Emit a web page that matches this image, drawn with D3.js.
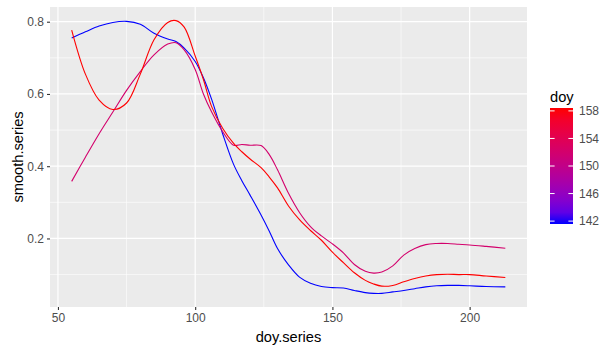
<!DOCTYPE html>
<html>
<head>
<meta charset="utf-8">
<script src="https://cdn.jsdelivr.net/npm/d3@7"></script>
<style>
  body { margin: 0; background: #fff; }
  svg { font-family: "Liberation Sans", Arial, sans-serif; display: block; }
  .tick-label { fill: #4d4d4d; font-size: 12px; }
  .axis-title { fill: #000; font-size: 14.67px; }
</style>
</head>
<body>
<div id="chart"></div>
<script>
// Sample positions along doy.series (shared by all three smoothed series)
const doySeries = [55, 60, 65, 70, 75, 80, 85, 90, 93, 96, 100, 103, 106, 110, 114, 117, 120, 124, 127, 130,
  134, 138, 142, 146, 150, 154, 158, 162, 165, 168, 172, 176, 180, 184, 188, 192, 196, 200, 206, 213];

// doy value of each line (colour variable)
const doyValues = [142, 152, 158];

// smooth.series for each doy
const smooth142 = [0.755, 0.772, 0.788, 0.798, 0.801, 0.793, 0.768, 0.752, 0.745, 0.727, 0.690, 0.645, 0.585, 0.490,
  0.405, 0.360, 0.320, 0.265, 0.220, 0.172, 0.127, 0.093, 0.076, 0.067, 0.064, 0.063, 0.056, 0.050, 0.048, 0.048,
  0.052, 0.056, 0.061, 0.066, 0.069, 0.070, 0.070, 0.069, 0.067, 0.066];
const smooth152 = [0.358, 0.425, 0.490, 0.550, 0.610, 0.662, 0.708, 0.738, 0.742, 0.722, 0.668, 0.600, 0.550, 0.496,
  0.458, 0.460, 0.458, 0.457, 0.432, 0.390, 0.325, 0.272, 0.233, 0.207, 0.185, 0.160, 0.128, 0.109, 0.104, 0.107,
  0.124, 0.154, 0.172, 0.183, 0.186, 0.186, 0.184, 0.182, 0.178, 0.173];
const smooth158 = [0.777, 0.655, 0.583, 0.557, 0.575, 0.655, 0.750, 0.798, 0.803, 0.785, 0.705, 0.640, 0.565, 0.505,
  0.463, 0.440, 0.420, 0.396, 0.370, 0.340, 0.290, 0.252, 0.222, 0.195, 0.162, 0.133, 0.105, 0.084, 0.074, 0.068,
  0.070, 0.080, 0.089, 0.096, 0.100, 0.101, 0.100, 0.100, 0.096, 0.092];

const xTicks = [50, 100, 150, 200];
const xMinor = [75, 125, 175];
const yTicks = [0.2, 0.4, 0.6, 0.8];
const yMinor = [0.1, 0.3, 0.5, 0.7];
const legendTicks = [142, 146, 150, 154, 158];

class SmoothChart {

  constructor(_config) {
    this.config = {
      parentElement: _config.parentElement,
      containerWidth: 615,
      containerHeight: 354,
      margin: { top: 7, right: 88, bottom: 47, left: 50 }
    };
    this.series = doyValues.map((doy, i) => ({
      doy: doy,
      values: doySeries.map((x, j) => ({ x: x, y: [smooth142, smooth152, smooth158][i][j] }))
    }));
    this.initVis();
  }

  initVis() {
    let vis = this;

    vis.config.width = vis.config.containerWidth - vis.config.margin.left - vis.config.margin.right;
    vis.config.height = vis.config.containerHeight - vis.config.margin.top - vis.config.margin.bottom;

    vis.svg = d3.select(vis.config.parentElement)
      .append('svg')
      .attr('width', vis.config.containerWidth)
      .attr('height', vis.config.containerHeight);

    vis.chart = vis.svg.append('g')
      .attr('transform', `translate(${vis.config.margin.left},${vis.config.margin.top})`);

    // ggplot style 5% expansion of the data range
    const expand = ext => {
      const pad = (ext[1] - ext[0]) * 0.05;
      return [ext[0] - pad, ext[1] + pad];
    };
    const allY = smooth142.concat(smooth152, smooth158);

    vis.xScale = d3.scaleLinear()
      .domain(expand(d3.extent(doySeries)))
      .range([0, vis.config.width]);

    vis.yScale = d3.scaleLinear()
      .domain(expand(d3.extent(allY)))
      .range([vis.config.height, 0]);

    vis.colorScale = d3.scaleLinear()
      .domain(d3.extent(doyValues))
      .range(['#0000ff', '#ff0000'])
      .interpolate(d3.interpolateLab);

    vis.renderVis();
  }

  renderVis() {
    let vis = this;
    const w = vis.config.width, h = vis.config.height;

    // Panel background
    vis.chart.append('rect')
      .attr('width', w)
      .attr('height', h)
      .attr('fill', '#ebebeb');

    // Minor grid
    vis.chart.selectAll('.grid-minor-x').data(xMinor).join('line')
      .attr('x1', d => vis.xScale(d)).attr('x2', d => vis.xScale(d))
      .attr('y1', 0).attr('y2', h)
      .attr('stroke', '#fff').attr('stroke-width', 0.6);
    vis.chart.selectAll('.grid-minor-y').data(yMinor).join('line')
      .attr('y1', d => vis.yScale(d)).attr('y2', d => vis.yScale(d))
      .attr('x1', 0).attr('x2', w)
      .attr('stroke', '#fff').attr('stroke-width', 0.6);

    // Major grid
    vis.chart.selectAll('.grid-major-x').data(xTicks).join('line')
      .attr('x1', d => vis.xScale(d)).attr('x2', d => vis.xScale(d))
      .attr('y1', 0).attr('y2', h)
      .attr('stroke', '#fff').attr('stroke-width', 1.2);
    vis.chart.selectAll('.grid-major-y').data(yTicks).join('line')
      .attr('y1', d => vis.yScale(d)).attr('y2', d => vis.yScale(d))
      .attr('x1', 0).attr('x2', w)
      .attr('stroke', '#fff').attr('stroke-width', 1.2);

    // Lines
    const line = d3.line()
      .x(d => vis.xScale(d.x))
      .y(d => vis.yScale(d.y))
      .curve(d3.curveCatmullRom.alpha(0.5));

    vis.chart.selectAll('.series').data(vis.series).join('path')
      .attr('class', 'series')
      .attr('d', d => line(d.values))
      .attr('fill', 'none')
      .attr('stroke', d => vis.colorScale(d.doy))
      .attr('stroke-width', 1.1);

    // Axes
    const xAxis = d3.axisBottom(vis.xScale).tickValues(xTicks).tickSize(3).tickPadding(3);
    const yAxis = d3.axisLeft(vis.yScale).tickValues(yTicks).tickSize(3).tickPadding(3)
      .tickFormat(d3.format('.1f'));

    const xg = vis.chart.append('g')
      .attr('transform', `translate(0,${h})`)
      .call(xAxis);
    const yg = vis.chart.append('g').call(yAxis);

    [xg, yg].forEach(g => {
      g.select('.domain').remove();
      g.selectAll('.tick line').attr('stroke', '#333').attr('stroke-width', 1.1);
      g.selectAll('.tick text').attr('class', 'tick-label').attr('font-family', null).attr('font-size', null);
    });

    // Axis titles
    vis.svg.append('text')
      .attr('class', 'axis-title')
      .attr('x', vis.config.margin.left + w / 2)
      .attr('y', 342)
      .attr('text-anchor', 'middle')
      .text('doy.series');

    vis.svg.append('text')
      .attr('class', 'axis-title')
      .attr('transform', `translate(22.5,${vis.config.margin.top + h / 2}) rotate(-90)`)
      .attr('text-anchor', 'middle')
      .text('smooth.series');

    vis.renderLegend();
  }

  renderLegend() {
    let vis = this;
    const barX = 550, barY = 108, barW = 23, barH = 116;
    const halfBin = barH / 20 / 2;
    const doyExtent = d3.extent(doyValues);

    const legendScale = d3.scaleLinear()
      .domain(doyExtent)
      .range([barY + barH - halfBin, barY + halfBin]);

    const defs = vis.svg.append('defs');
    const grad = defs.append('linearGradient')
      .attr('id', 'doy-gradient')
      .attr('x1', 0).attr('y1', 1).attr('x2', 0).attr('y2', 0);
    d3.range(0, 1.0001, 0.1).forEach(t => {
      grad.append('stop')
        .attr('offset', t)
        .attr('stop-color', vis.colorScale(doyExtent[0] + t * (doyExtent[1] - doyExtent[0])));
    });

    vis.svg.append('text')
      .attr('class', 'axis-title')
      .attr('x', barX)
      .attr('y', 102)
      .text('doy');

    vis.svg.append('rect')
      .attr('x', barX)
      .attr('y', barY)
      .attr('width', barW)
      .attr('height', barH)
      .attr('fill', 'url(#doy-gradient)');

    const ticks = vis.svg.append('g');
    ticks.selectAll('.lt-left').data(legendTicks).join('line')
      .attr('x1', barX).attr('x2', barX + barW / 5)
      .attr('y1', d => legendScale(d)).attr('y2', d => legendScale(d))
      .attr('stroke', '#fff').attr('stroke-width', 1);
    ticks.selectAll('.lt-right').data(legendTicks).join('line')
      .attr('x1', barX + barW - barW / 5).attr('x2', barX + barW)
      .attr('y1', d => legendScale(d)).attr('y2', d => legendScale(d))
      .attr('stroke', '#fff').attr('stroke-width', 1);

    vis.svg.selectAll('.legend-label').data(legendTicks).join('text')
      .attr('class', 'tick-label')
      .attr('x', barX + barW + 6)
      .attr('y', d => legendScale(d))
      .attr('dy', '0.36em')
      .text(d => d);
  }
}

new SmoothChart({ parentElement: '#chart' });
</script>
</body>
</html>
